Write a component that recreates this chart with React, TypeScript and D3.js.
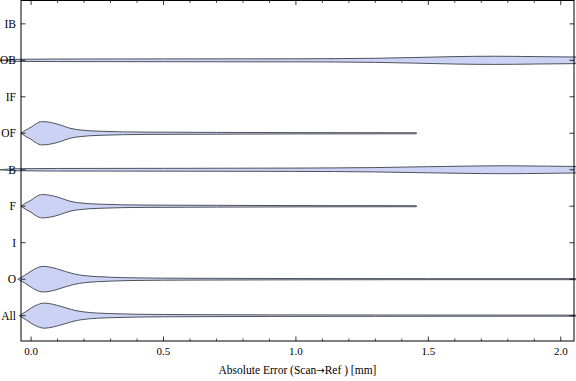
import React from "react";
import * as d3 from "d3";

const categories = ["All", "O", "I", "F", "B", "OF", "IF", "OB", "IB"];
const xTicksMajor = [0, 0.5, 1.0, 1.5, 2.0];
const xTickLabels = ["0.0", "0.5", "1.0", "1.5", "2.0"];
const xTicksMinor = [0.1, 0.2, 0.3, 0.4, 0.6, 0.7, 0.8, 0.9, 1.1, 1.2, 1.3, 1.4, 1.6, 1.7, 1.8, 1.9];
const xTitleParts = ["Absolute Error (Scan", "\u2192", "Ref ) [mm]"];

// [absolute error (mm), relative density]
const densAll: [number, number][] = [
  [-0.045, 0], [-0.02, 0.31], [0.0, 0.59], [0.025, 0.86], [0.05, 0.98], [0.08, 0.9],
  [0.11, 0.74], [0.135, 0.59], [0.17, 0.39], [0.2, 0.29], [0.25, 0.2], [0.3, 0.16],
  [0.4, 0.11], [0.6, 0.08], [0.9, 0.06], [1.3, 0.05], [2.2, 0.04],
];
const densO: [number, number][] = [
  [-0.05, 0], [-0.02, 0.35], [0.0, 0.62], [0.02, 0.86], [0.045, 1.0], [0.075, 0.93],
  [0.105, 0.76], [0.13, 0.6], [0.165, 0.4], [0.2, 0.28], [0.25, 0.2], [0.3, 0.15],
  [0.4, 0.1], [0.6, 0.07], [1.0, 0.05], [1.5, 0.04], [2.2, 0.04],
];
const densF: [number, number][] = [
  [-0.038, 0], [-0.02, 0.25], [0.0, 0.47], [0.02, 0.76], [0.04, 0.91], [0.07, 0.86],
  [0.11, 0.65], [0.147, 0.39], [0.185, 0.26], [0.26, 0.16], [0.43, 0.09], [0.7, 0.07],
  [1.0, 0.05], [1.45, 0.04], [1.457, 0],
];
const densOF: [number, number][] = [
  [-0.038, 0], [-0.02, 0.25], [0.0, 0.47], [0.02, 0.76], [0.04, 0.91], [0.07, 0.86],
  [0.11, 0.65], [0.147, 0.39], [0.185, 0.26], [0.26, 0.16], [0.43, 0.09], [0.7, 0.07],
  [1.0, 0.05], [1.45, 0.04], [1.457, 0],
];
const densB: [number, number][] = [
  [-0.12, 0], [-0.05, 0.08], [0.1, 0.1], [0.5, 0.11], [1.0, 0.13], [1.3, 0.17],
  [1.5, 0.24], [1.7, 0.3], [1.8, 0.31], [1.95, 0.28], [2.1, 0.25], [2.2, 0.25],
];
const densOB: [number, number][] = [
  [-0.12, 0], [-0.05, 0.08], [0.1, 0.1], [0.5, 0.11], [1.0, 0.12], [1.3, 0.16],
  [1.45, 0.22], [1.6, 0.29], [1.75, 0.32], [1.9, 0.29], [2.05, 0.26], [2.2, 0.25],
];

const violins: { cat: string; dens: [number, number][] }[] = [
  { cat: "All", dens: densAll },
  { cat: "O", dens: densO },
  { cat: "F", dens: densF },
  { cat: "B", dens: densB },
  { cat: "OF", dens: densOF },
  { cat: "OB", dens: densOB },
];

const W = 576;
const H = 381;
const left = 21;
const right = 574;
const top = 0.5;
const bottom = 341;

export default function App() {
  const x = d3.scaleLinear().domain([-0.038, 2.05]).range([left, right]);
  const y = d3.scaleLinear().domain([-0.695, 8.64]).range([bottom, top]);
  const w = d3.scaleLinear().domain([0, 1]).range([0, 12.8]);
  const font = "'Liberation Serif', 'Times New Roman', serif";

  return (
    <svg width={W} height={H} style={{ position: "absolute", left: 0, top: 0, display: "block", background: "#fff" }}>
      {violins.map((v) => {
        const yc = y(categories.indexOf(v.cat));
        const area = d3
          .area<[number, number]>()
          .x((d) => x(d[0]))
          .y0((d) => yc - w(d[1]))
          .y1((d) => yc + w(d[1]))
          .curve(d3.curveMonotoneX);
        return (
          <path key={v.cat} d={area(v.dens) || ""} fill="#ccd2f3" stroke="#4e525c" strokeWidth={1} />
        );
      })}
      {/* frame */}
      <rect x={left} y={top} width={right - left} height={bottom - top} fill="none" stroke="#000" strokeWidth={1} />
      {/* x ticks */}
      {xTicksMajor.map((t) => (
        <g key={"M" + t}>
          <line x1={x(t)} x2={x(t)} y1={bottom} y2={bottom - 4.5} stroke="#000" strokeWidth={0.8} />
          <line x1={x(t)} x2={x(t)} y1={top} y2={top + 4.5} stroke="#000" strokeWidth={0.8} />
        </g>
      ))}
      {xTicksMinor.map((t) => (
        <g key={"m" + t}>
          <line x1={x(t)} x2={x(t)} y1={bottom} y2={bottom - 2.5} stroke="#000" strokeWidth={0.7} />
          <line x1={x(t)} x2={x(t)} y1={top} y2={top + 2.5} stroke="#000" strokeWidth={0.7} />
        </g>
      ))}
      {xTicksMajor.map((t, i) => (
        <text key={"l" + t} x={x(t)} y={355} fontSize={11} fontFamily={font} textAnchor="middle" fill="#000">
          {xTickLabels[i]}
        </text>
      ))}
      {/* y ticks */}
      {categories.map((c, i) => (
        <g key={c}>
          <line x1={left} x2={left + 4.5} y1={y(i)} y2={y(i)} stroke="#000" strokeWidth={0.8} />
          <line x1={right} x2={right - 4.5} y1={y(i)} y2={y(i)} stroke="#000" strokeWidth={0.8} />
          <text x={16} y={y(i) + 4} fontSize={11.5} fontFamily={font} textAnchor="end" fill="#000">
            {c}
          </text>
        </g>
      ))}
      <text x={(left + right) / 2} y={374} fontSize={11.5} fontFamily={font} textAnchor="middle" fill="#000">
        {xTitleParts[0]}
        <tspan fontFamily="'DejaVu Sans', sans-serif" fontSize={10}>{xTitleParts[1]}</tspan>
        {xTitleParts[2]}
      </text>
    </svg>
  );
}
